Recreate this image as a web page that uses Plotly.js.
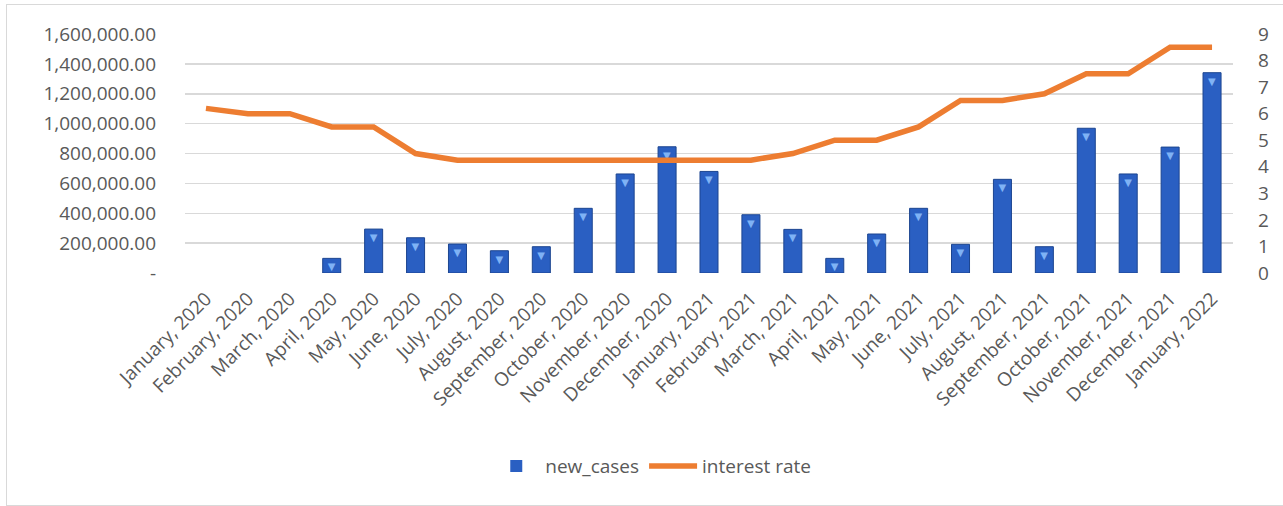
<!DOCTYPE html>
<html>
<head>
<meta charset="utf-8">
<script src="https://cdn.plot.ly/plotly-3.0.1.min.js"></script>
<style>
  html, body { margin: 0; padding: 0; background: #ffffff; }
  #frame { position: absolute; left: 6px; top: 4px; width: 1290px; height: 500px;
           border-left: 1px solid #d9d9d9; border-top: 1px solid #d9d9d9; border-bottom: 1px solid #d9d9d9; }
  #chart { position: absolute; left: 0; top: 0; width: 1283px; height: 506px; }
</style>
</head>
<body>
<div id="frame"></div>
<div id="chart"></div>
<script>
const months = [
  "January, 2020", "February, 2020", "March, 2020", "April, 2020", "May, 2020",
  "June, 2020", "July, 2020", "August, 2020", "September, 2020", "October, 2020",
  "November, 2020", "December, 2020", "January, 2021", "February, 2021", "March, 2021",
  "April, 2021", "May, 2021", "June, 2021", "July, 2021", "August, 2021",
  "September, 2021", "October, 2021", "November, 2021", "December, 2021", "January, 2022"
];
const newCases = [
  0, 0, 0, 98000, 294000,
  236000, 194000, 149000, 176000, 433000,
  663000, 845000, 680000, 390000, 292000,
  98000, 261000, 433000, 192000, 627000,
  176000, 969000, 663000, 843000, 1341000
];
const interestRate = [
  6.2, 6.0, 6.0, 5.5, 5.5,
  4.5, 4.25, 4.25, 4.25, 4.25,
  4.25, 4.25, 4.25, 4.25, 4.5,
  5.0, 5.0, 5.5, 6.5, 6.5,
  6.75, 7.5, 7.5, 8.5, 8.5
];
const leftTickVals = [0, 200000, 400000, 600000, 800000, 1000000, 1200000, 1400000, 1600000];
const leftTickText = ["-", "200,000.00", "400,000.00", "600,000.00", "800,000.00",
                      "1,000,000.00", "1,200,000.00", "1,400,000.00", "1,600,000.00"];
const rightTickVals = [0, 1, 2, 3, 4, 5, 6, 7, 8, 9];

const FONT = "'Open Sans', sans-serif";
const GRAY = "#595959";
const FS = 19;

const bars = {
  type: "bar",
  name: "new_cases",
  x: months,
  y: newCases,
  yaxis: "y",
  marker: { color: "#2a5fc2", line: { color: "#1c4590", width: newCases.map(v => v > 0 ? 1 : 0) } },
  text: newCases.map(v => v > 0 ? "▼" : ""),
  texttemplate: "%{text}",
  textposition: "inside",
  insidetextanchor: "end",
  textangle: 0,
  constraintext: "none",
  textfont: { color: "#7fb2f5", size: 10, family: "DejaVu Sans" },
  hoverinfo: "x+y"
};
const line = {
  type: "scatter",
  mode: "lines",
  name: "interest rate",
  x: months,
  y: interestRate,
  yaxis: "y2",
  line: { color: "#ED7D31", width: 5.5 },
  hoverinfo: "x+y"
};

const layout = {
  width: 1283,
  height: 506,
  paper_bgcolor: "rgba(0,0,0,0)",
  plot_bgcolor: "rgba(0,0,0,0)",
  margin: { l: 185, r: 50, t: 34, b: 233 },
  font: { family: FONT, color: GRAY, size: FS },
  bargap: 0.57,
  showlegend: true,
  legend: {
    orientation: "h",
    xref: "container", yref: "container",
    x: 0.508, xanchor: "center",
    y: 0.079, yanchor: "middle",
    font: { family: FONT, size: FS, color: GRAY },
    itemwidth: 48,
    traceorder: "normal"
  },
  xaxis: {
    type: "category",
    tickangle: -45,
    showgrid: false,
    showline: false,
    ticks: "",
    ticklabelstandoff: 10,
    tickfont: { family: FONT, size: FS, color: GRAY },
    automargin: false
  },
  yaxis: {
    range: [0, 1600000],
    tickvals: leftTickVals,
    ticktext: leftTickText,
    showgrid: true,
    gridcolor: "#d9d9d9",
    gridwidth: 1.5,
    zeroline: false,
    showline: false,
    ticks: "",
    ticklabelstandoff: 28,
    tickfont: { family: FONT, size: FS, color: GRAY },
    automargin: false
  },
  yaxis2: {
    overlaying: "y",
    side: "right",
    range: [0, 9],
    tickvals: rightTickVals,
    showgrid: false,
    zeroline: false,
    showline: false,
    ticks: "",
    ticklabelstandoff: 24,
    tickfont: { family: FONT, size: FS, color: GRAY },
    automargin: false
  }
};

Plotly.newPlot("chart", [bars, line], layout, { displayModeBar: false, staticPlot: true });
</script>
</body>
</html>
